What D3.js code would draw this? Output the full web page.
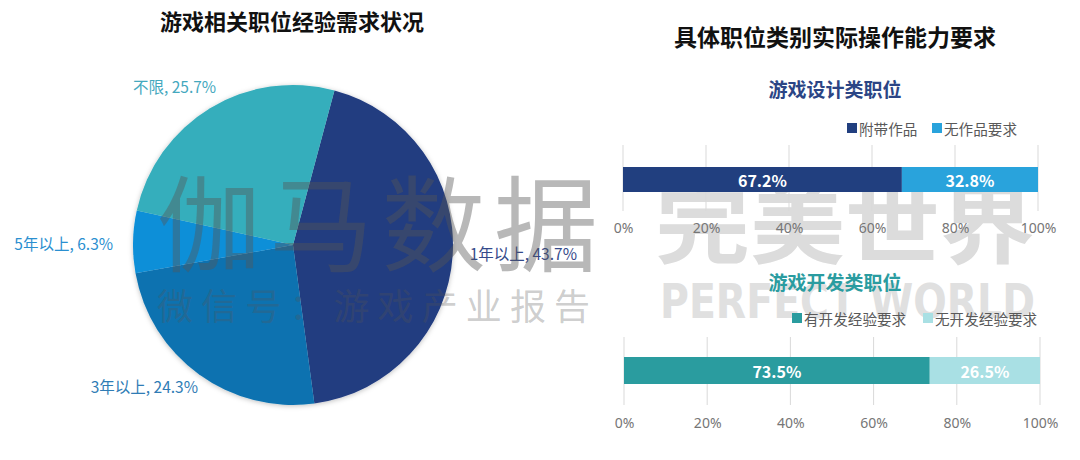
<!DOCTYPE html>
<html><head><meta charset="utf-8">
<script src="https://cdn.jsdelivr.net/npm/d3@7"></script>
<style>
body{margin:0;background:#fff;}
svg text{font-family:"Noto Sans CJK SC","Noto Sans",sans-serif;}
</style>
</head><body>
<svg id="c" width="1080" height="460"></svg>
<script>
// ---------- data ----------
const pieTitle = "游戏相关职位经验需求状况";
const pieCategories = ["1年以上", "3年以上", "5年以上", "不限"];
const pieValues = [43.7, 24.3, 6.3, 25.7];

const rightTitle = "具体职位类别实际操作能力要求";
const designTitle = "游戏设计类职位";
const designCategories = ["附带作品", "无作品要求"];
const designValues = [67.2, 32.8];
const devTitle = "游戏开发类职位";
const devCategories = ["有开发经验要求", "无开发经验要求"];
const devValues = [73.5, 26.5];
const tickValues = [0, 20, 40, 60, 80, 100];

// ---------- styles ----------
const pieColors = ["#213c80", "#0b72b0", "#0a8fd8", "#35aebc"];
const pieLabelColors = ["#34498a", "#2f7cb5", "#2a8fd0", "#44a8be"];
const designColors = ["#213f7f", "#29a3dc"];
const devColors = ["#2a9c9f", "#a9e0e4"];

const svg = d3.select("#c");
const defs = svg.append("defs");
const f = defs.append("filter").attr("id", "sh").attr("x", "-10%").attr("y", "-10%").attr("width", "120%").attr("height", "120%");
f.append("feDropShadow").attr("dx", 0).attr("dy", 1).attr("stdDeviation", 2.5).attr("flood-color", "#000").attr("flood-opacity", 0.25);

// ---------- right watermark (behind) ----------
svg.append("text").attr("x", 655).attr("y", 257).attr("textLength", 380).attr("lengthAdjust", "spacingAndGlyphs")
  .attr("font-size", 86).attr("font-weight", 700).attr("fill", "#dcdcdc").text("完美世界");
svg.append("text").attr("x", 660).attr("y", 318).attr("textLength", 375).attr("lengthAdjust", "spacingAndGlyphs")
  .attr("font-size", 48).attr("font-weight", 700).attr("fill", "#e0e0e0").style("font-family", "'DejaVu Sans',sans-serif").text("PERFECT WORLD");

// ---------- pie ----------
const cx = 293, cy = 245, R = 160;
svg.append("text").attr("x", cx - 1).attr("y", 30).attr("text-anchor", "middle")
  .attr("font-size", 22).attr("font-weight", 700).attr("fill", "#111").text(pieTitle);

const pie = d3.pie().sort(null).value(d => d.v).startAngle(0.262).endAngle(0.262 + 2 * Math.PI);
const pieData = pie(pieCategories.map((c, i) => ({c, v: pieValues[i], i})));
const arc = d3.arc().innerRadius(0).outerRadius(R);
const gp = svg.append("g").attr("transform", `translate(${cx},${cy})`);
gp.append("g").attr("filter", "url(#sh)").selectAll("path").data(pieData).join("path")
  .attr("d", arc).attr("fill", d => pieColors[d.data.i]);

// label layout per slice
const labelLayout = {
  "1年以上": {r: 177, anchor: "start", dx: 0, dy: -3},
  "3年以上": {r: 175, anchor: "end", dx: 8, dy: 0},
  "5年以上": {r: 180, anchor: "end", dx: 0, dy: 2},
  "不限": {r: 186, anchor: "middle", dx: -22, dy: 0}
};
gp.selectAll("text.pl").data(pieData).join("text").attr("class", "pl")
  .each(function(d) {
    const L = labelLayout[d.data.c];
    const a = (d.startAngle + d.endAngle) / 2;
    d3.select(this).attr("x", Math.sin(a) * L.r + L.dx).attr("y", -Math.cos(a) * L.r + L.dy)
      .attr("text-anchor", L.anchor);
  })
  .attr("dominant-baseline", "central").attr("font-size", 15.5)
  .attr("fill", d => pieLabelColors[d.data.i])
  .text(d => `${d.data.c}, ${d.data.v}%`);

// ---------- left watermark (over pie) ----------
svg.append("text").attr("x", 157).attr("y", 264).attr("textLength", 441).attr("lengthAdjust", "spacing")
  .attr("font-size", 104).attr("fill", "#555").attr("fill-opacity", 0.42).text("伽马数据");
svg.append("text").attr("x", 157).attr("y", 320).attr("textLength", 433).attr("lengthAdjust", "spacing")
  .attr("font-size", 36).attr("fill", "#555").attr("fill-opacity", 0.3).text("微信号：游戏产业报告");

// ---------- right bars ----------
svg.append("text").attr("x", 835).attr("y", 46).attr("text-anchor", "middle")
  .attr("font-size", 23).attr("font-weight", 700).attr("fill", "#111").text(rightTitle);

function barChart(opt) {
  const x = d3.scaleLinear().domain([0, 100]).range([opt.x0, opt.x1]);
  const g = svg.append("g");
  g.append("text").attr("x", 835).attr("y", opt.titleY).attr("text-anchor", "middle")
    .attr("dominant-baseline", "central").attr("font-size", 19).attr("font-weight", 700)
    .attr("fill", opt.titleColor).text(opt.title);
  // legend
  const lg = g.selectAll("g.lg").data(opt.cats).join("g")
    .attr("transform", (d, i) => `translate(${opt.legendX[i]},${opt.legendY})`);
  lg.append("rect").attr("x", 0).attr("y", -5).attr("width", 10).attr("height", 10).attr("fill", (d, i) => opt.colors[i]);
  lg.append("text").attr("x", 12).attr("y", 0).attr("dominant-baseline", "central")
    .attr("font-size", 14.6).attr("fill", "#595959").text(d => d);
  // grid
  g.selectAll("line.gr").data(tickValues).join("line")
    .attr("x1", d => x(d)).attr("x2", d => x(d)).attr("y1", opt.gridTop).attr("y2", opt.gridBottom)
    .attr("stroke", "#d9d9d9").attr("stroke-width", 1);
  // bars
  const cum = [0, ...d3.cumsum(opt.vals)];
  const segs = opt.vals.map((v, i) => ({v, s: cum[i], e: cum[i + 1], i}));
  g.selectAll("rect.b").data(segs).join("rect")
    .attr("x", d => x(d.s)).attr("width", d => x(d.e) - x(d.s))
    .attr("y", opt.barY).attr("height", opt.barH).attr("fill", d => opt.colors[d.i]);
  g.selectAll("text.bv").data(segs).join("text")
    .attr("x", d => (x(d.s) + x(d.e)) / 2).attr("y", opt.barY + opt.barH / 2)
    .attr("text-anchor", "middle").attr("dominant-baseline", "central")
    .attr("font-size", 16).attr("font-weight", 700).attr("fill", "#fff").text(d => d.v.toFixed(1) + "%");
  // axis
  const ax = g.append("g").attr("transform", `translate(0,${opt.axisY})`)
    .call(d3.axisBottom(x).tickValues(tickValues).tickSize(0).tickFormat(d => d + "%"));
  ax.select(".domain").remove();
  ax.selectAll("text").attr("font-size", 14).attr("fill", "#767676")
    .style("font-family", "'Noto Sans','Noto Sans CJK SC',sans-serif");
}

barChart({title: designTitle, titleY: 88, titleColor: "#2b4585", cats: designCategories, vals: designValues,
  colors: designColors, legendX: [847, 932], legendY: 128, x0: 623, x1: 1038,
  gridTop: 145, gridBottom: 211, barY: 167, barH: 25, axisY: 220});
barChart({title: devTitle, titleY: 281, titleColor: "#2a9ca0", cats: devCategories, vals: devValues,
  colors: devColors, legendX: [792, 923], legendY: 318, x0: 624, x1: 1040,
  gridTop: 337, gridBottom: 405, barY: 357, barH: 27, axisY: 415});
</script>
</body></html>
